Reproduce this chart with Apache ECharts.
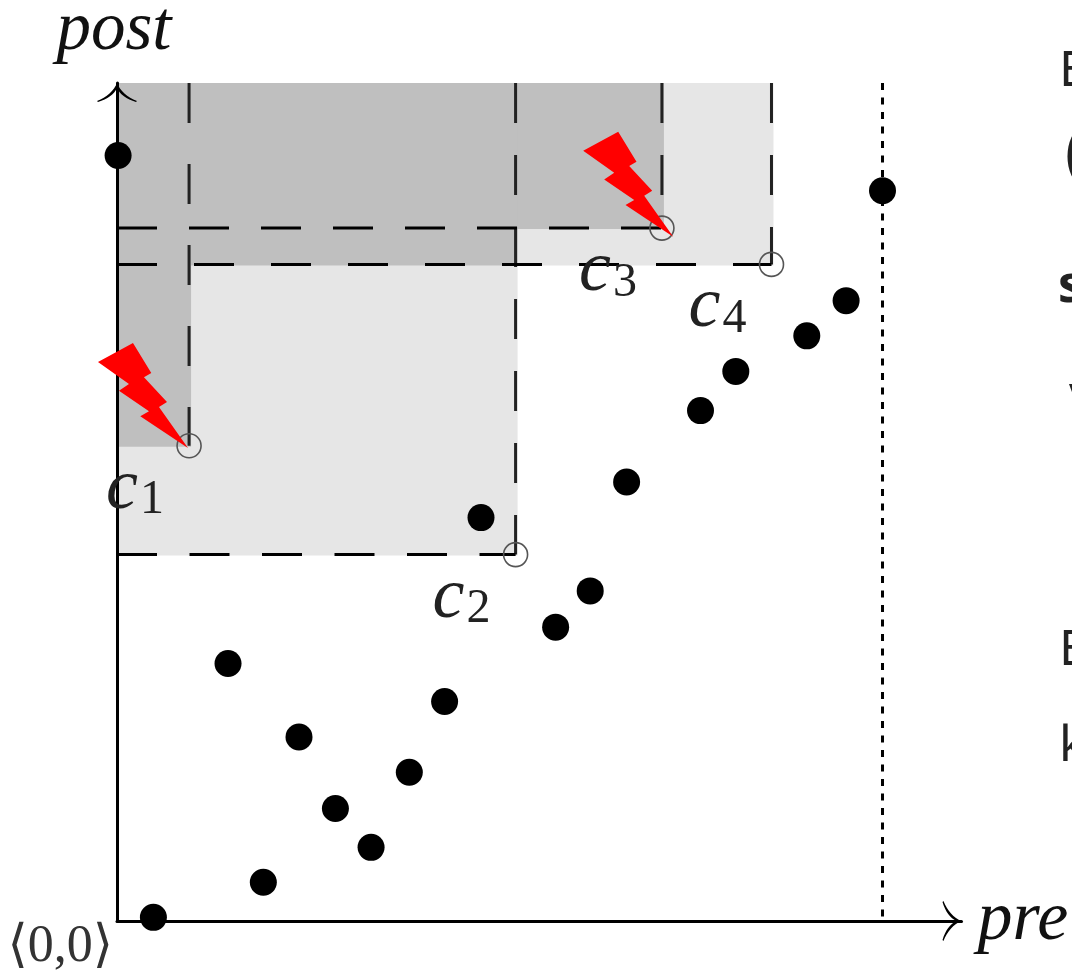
<!DOCTYPE html>
<html>
<head>
<meta charset="utf-8">
<style>html,body{margin:0;padding:0;background:#fff;overflow:hidden}#c{width:1072px;height:975px}</style>
<script src="https://cdn.jsdelivr.net/npm/echarts@6/dist/echarts.min.js"></script>
</head>
<body>
<div id="c"></div>
<script>
// Data (rank coordinates)
const points = [[0.03,21],[1,0],[3.05,7],[4.02,0.97],[5,4.97],[6,3],[6.98,1.93],[8.03,4],[9,5.95],[10,11.02],[12.05,8],[13,9],[14,12],[16.03,13.97],[17,15.05],[18.95,16.03],[20.03,17],[21.03,20.03]];
const candidateNames = ['1','2','3','4'];
const candidates = [[1.98,13],[10.95,10],[14.97,19],[17.98,18]];
const darkCorners = [[1.98,13],[14.97,19],[10.95,18]];
const lightCorners = [[10.95,10],[17.98,18]];
const horizontalDashed = [1,2,3];
const boltTips = [[1.95,12.94],[15.28,18.76]];
const dottedX = 21.03;
const xName = 'pre', yName = 'post', originLabel = '\u27E80,0\u27E9';
const xMax = 23.2, yMin = -0.1, yMax = 23;

const verticalDash = [[40,41],[40,32],[40,32],[40,32]];
const horizontalDash = [null,[40,32.5],[40,32],[40,37]];
const boltShape = [[-90,-86],[-55,-105],[-36.7,-75],[-44,-70.7],[-21,-46],[-29,-41],[0,0],[-47.7,-31.7],[-39,-36.7],[-69,-57.3],[-59,-64]];
const arrowPath = 'path://M21 0C24 8 32 15 42 19L41 20C31 17 24 12 21 5C18 12 11 17 1 20L0 19C10 15 18 8 21 0Z';

function regionSeries(corners, color, z){
  return {type:'custom', coordinateSystem:'cartesian2d', z:z, silent:true, clip:false,
    data: corners,
    renderItem:(p,api)=>{
      const a = api.coord([0,yMax]), b = api.coord([api.value(0),api.value(1)]);
      return {type:'rect', shape:{x:a[0],y:a[1],width:b[0]-a[0]+2,height:b[1]-a[1]+1}, style:{fill:color}};
    }};
}
function dashLine(data, dash, w, color){
  return {type:'line', data:data, symbol:'none', silent:true, z:3, clip:false,
    lineStyle:{color:color, width:w, type:dash, cap:'butt', opacity:1}};
}
const dashSeries = [];
candidates.forEach((c,i)=>{
  dashSeries.push(dashLine([[c[0],yMax],[c[0],c[1]]], verticalDash[i], 3, '#222'));
  if (horizontalDashed.includes(i)) dashSeries.push(dashLine([[0,c[1]],[c[0],c[1]]], horizontalDash[i], 3, '#000'));
});
const sideText = (text,left,top,size,weight)=>({type:'text',left:left,top:top,
  style:{text:text,fontFamily:'Noto Sans',fontSize:size,fontWeight:weight||'normal',fill:'#222'}});

const option = {
  animation:false,
  backgroundColor:'#fff',
  grid:{left:117, top:83, width:844.5, height:838, outerBoundsMode:'none', containLabel:false},
  xAxis:{type:'value', min:0, max:xMax, splitLine:{show:false}, axisTick:{show:false},
    name:xName, nameLocation:'end', nameGap:16,
    nameTextStyle:{fontFamily:'Liberation Serif', fontStyle:'italic', fontSize:70, color:'#111', verticalAlign:'middle', align:'left'},
    axisLine:{show:true, onZero:false, lineStyle:{color:'#000', width:3}, symbol:['none',arrowPath], symbolSize:[42,19], symbolOffset:[0,-9.5]},
    axisLabel:{show:true, customValues:[0], formatter:()=>originLabel, align:'right', margin:0, padding:[0,4,0,0],
      fontFamily:'Liberation Serif, DejaVu Serif', fontSize:52, color:'#333', hideOverlap:false}},
  yAxis:{type:'value', min:yMin, max:yMax, splitLine:{show:false}, axisTick:{show:false}, axisLabel:{show:false},
    name:yName, nameLocation:'end', nameGap:18,
    nameTextStyle:{fontFamily:'Liberation Serif', fontStyle:'italic', fontSize:69, color:'#111', padding:[0,6,0,0]},
    axisLine:{show:true, onZero:false, lineStyle:{color:'#000', width:3}, symbol:['none',arrowPath], symbolSize:[42,19], symbolOffset:[0,-9.5]}},
  series:[
    regionSeries(lightCorners,'#e6e6e6',-2),
    regionSeries(darkCorners,'#bfbfbf',-1),
    ...dashSeries,
    dashLine([[dottedX,yMax],[dottedX,yMin]],[7,7.5],3,'#000'),
    {type:'scatter', data:points, symbol:'circle', symbolSize:27, itemStyle:{color:'#000',opacity:1}, z:4, clip:false, silent:true},
    {type:'scatter', data:candidates, symbol:'circle', symbolSize:24, z:5, clip:false, silent:true,
      itemStyle:{color:'rgba(0,0,0,0)', borderColor:'#555', borderWidth:1.6, opacity:1},
      label:{show:true, position:'inside', offset:[-54,43],
        formatter:p=>'{c|c}{s|'+candidateNames[p.dataIndex]+'}',
        rich:{c:{fontFamily:'Liberation Serif',fontStyle:'italic',fontSize:72,color:'#222',lineHeight:72},
              s:{fontFamily:'Liberation Serif',fontSize:48,color:'#222',lineHeight:48,verticalAlign:'bottom',padding:[14,0,0,2]}}}},
    {type:'custom', coordinateSystem:'cartesian2d', z:6, silent:true, clip:false, data:boltTips,
      renderItem:(p,api)=>{
        const t = api.coord([api.value(0),api.value(1)]);
        return {type:'polygon', shape:{points:boltShape.map(q=>[t[0]+q[0],t[1]+q[1]])}, style:{fill:'#ff0000'}};
      }}
  ],
  graphic:[
    sideText('E',1059,47,50),
    sideText('(',1065,124,62),
    sideText('s',1058,263,50,'bold'),
    sideText('v',1069,375,40),
    sideText('E',1059,626,50),
    sideText('k',1059,722,50)
  ]
};
echarts.init(document.getElementById('c'),null,{renderer:'canvas'}).setOption(option);
</script>
</body>
</html>
